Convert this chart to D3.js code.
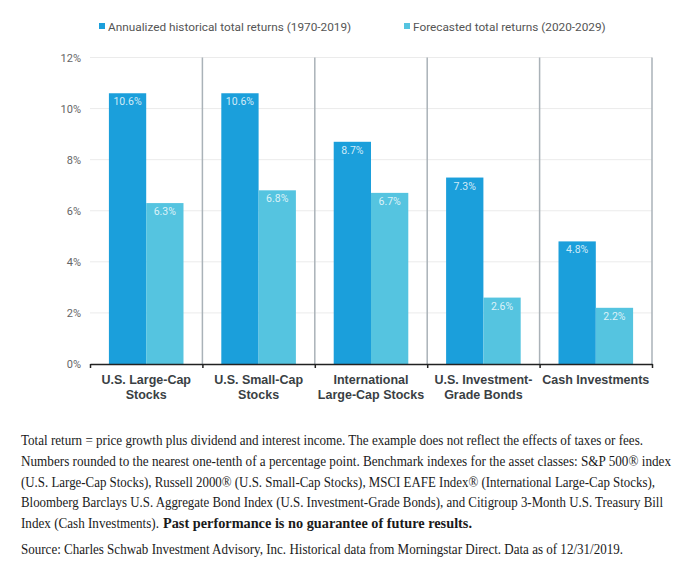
<!DOCTYPE html>
<html>
<head>
<meta charset="utf-8">
<script src="https://cdn.jsdelivr.net/npm/d3@7"></script>
<style>
  html, body { margin: 0; padding: 0; background: #fff; }
  svg { display: block; }
</style>
</head>
<body>
<svg id="chart" width="690" height="568"></svg>
<script>
const categories = [
  ["U.S. Large-Cap", "Stocks"],
  ["U.S. Small-Cap", "Stocks"],
  ["International", "Large-Cap Stocks"],
  ["U.S. Investment-", "Grade Bonds"],
  ["Cash Investments"]
];
const seriesNames = ["Annualized historical total returns (1970-2019)", "Forecasted total returns (2020-2029)"];
const historical = [10.6, 10.6, 8.7, 7.3, 4.8];
const forecast = [6.3, 6.8, 6.7, 2.6, 2.2];
const yTicks = [0, 2, 4, 6, 8, 10, 12];
const colors = ["#1b9fdb", "#55c4e0"];

const footLines = [
  [{t: "Total return = price growth plus dividend and interest income. The example does not reflect the effects of taxes or fees."}],
  [{t: "Numbers rounded to the nearest one-tenth of a percentage point. Benchmark indexes for the asset classes: S&P 500® index"}],
  [{t: "(U.S. Large-Cap Stocks), Russell 2000® (U.S. Small-Cap Stocks), MSCI EAFE Index® (International Large-Cap Stocks),"}],
  [{t: "Bloomberg Barclays U.S. Aggregate Bond Index (U.S. Investment-Grade Bonds), and Citigroup 3-Month U.S. Treasury Bill"}],
  [{t: "Index (Cash Investments). "}, {t: "Past performance is no guarantee of future results.", b: true}]
];
const sourceLine = "Source: Charles Schwab Investment Advisory, Inc. Historical data from Morningstar Direct. Data as of 12/31/2019.";

(function() {
const svg = d3.select("#chart");
const pLeft = 90, pRight = 652, pTop = 57.5, pBottom = 364;

const x = d3.scaleBand().domain(d3.range(categories.length)).range([pLeft, pRight]).paddingInner(0).paddingOuter(0);
const inner = d3.scaleBand().domain([0, 1]).range([0, x.bandwidth()]).paddingInner(0).paddingOuter(0.507);
const y = d3.scaleLinear().domain([0, 12]).range([pBottom, pTop]);

// gridlines
svg.append("g").selectAll("line").data(yTicks.filter(d => d > 0)).join("line")
  .attr("x1", pLeft).attr("x2", pRight)
  .attr("y1", d => y(d)).attr("y2", d => y(d))
  .attr("stroke", "#ebebeb").attr("stroke-width", 1);

// y axis labels
const yAxis = d3.axisLeft(y).tickValues(yTicks).tickFormat(d => d + "%").tickSize(0).tickPadding(9);
const yg = svg.append("g").attr("transform", `translate(${pLeft},0)`).call(yAxis);
yg.select(".domain").remove();
yg.selectAll("text").attr("fill", "#666").attr("font-size", 11).attr("font-family", "Roboto, 'Liberation Sans', Arial, sans-serif");

// separators
svg.append("g").selectAll("line").data(d3.range(1, categories.length + 1)).join("line")
  .attr("x1", i => i < categories.length ? x(i) : pRight).attr("x2", i => i < categories.length ? x(i) : pRight)
  .attr("y1", pTop).attr("y2", pBottom)
  .attr("stroke", "#aab2b8").attr("stroke-width", 1.5);

// bars
const data = [historical, forecast];
const groups = svg.append("g").selectAll("g").data(categories.map((c, i) => i)).join("g")
  .attr("transform", i => `translate(${x(i)},0)`);
groups.selectAll("rect").data(i => data.map((s, k) => ({k, v: s[i]}))).join("rect")
  .attr("x", d => inner(d.k)).attr("width", inner.bandwidth())
  .attr("y", d => y(d.v)).attr("height", d => y(0) - y(d.v))
  .attr("fill", d => colors[d.k]);
groups.selectAll("text").data(i => data.map((s, k) => ({k, v: s[i]}))).join("text")
  .attr("x", d => inner(d.k) + inner.bandwidth() / 2)
  .attr("y", d => y(d.v) + 12)
  .attr("text-anchor", "middle")
  .attr("fill", "#ffffff").attr("fill-opacity", 0.8)
  .attr("font-size", 10.5).attr("font-family", "Roboto, 'Liberation Sans', Arial, sans-serif")
  .text(d => d.v.toFixed(1) + "%");

// x axis
const xAxis = d3.axisBottom(d3.scaleLinear().domain([0, categories.length]).range([pLeft, pRight]))
  .tickValues(d3.range(0, categories.length + 1)).tickFormat("").tickSizeInner(4).tickSizeOuter(0);
const xg = svg.append("g").attr("transform", `translate(0,${pBottom})`).call(xAxis);
xg.select(".domain").attr("stroke", "#222").attr("stroke-width", 1.5);
xg.selectAll(".tick line").attr("stroke", "#222").attr("stroke-width", 1.5);

// category labels
const cl = svg.append("g").selectAll("text").data(categories).join("text")
  .attr("x", (d, i) => x(i) + x.bandwidth() / 2)
  .attr("y", 384)
  .attr("text-anchor", "middle")
  .attr("font-size", 12.5).attr("font-weight", "bold").attr("fill", "#3a3f44")
  .attr("font-family", "'Liberation Sans', Arial, sans-serif");
cl.selectAll("tspan").data(d => d).join("tspan")
  .attr("x", function() { return d3.select(this.parentNode).attr("x"); })
  .attr("dy", (d, i) => i === 0 ? 0 : 15)
  .text(d => d);

// legend
const legendX = [99, 404];
const lg = svg.append("g").selectAll("g").data(seriesNames).join("g")
  .attr("transform", (d, i) => `translate(${legendX[i]},23)`);
lg.append("rect").attr("width", 6).attr("height", 6).attr("fill", (d, i) => colors[i]);
lg.append("text").attr("x", 9).attr("y", 7.5)
  .attr("font-size", 11.8).attr("fill", "#555")
  .attr("font-family", "Roboto, 'Liberation Sans', Arial, sans-serif")
  .text(d => d);

// footnote
const serif = "'Liberation Serif', 'DejaVu Serif', Georgia, serif";
const lineW = [[622], [650], [634], [642], [138, 309]];
const segX = [[21], [21], [21], [21], [21, 163]];
const foot = svg.append("g");
footLines.forEach((line, i) => {
  const t = foot.append("text").attr("y", 445 + i * 20.8)
    .attr("font-size", 14).attr("fill", "#1a1a1a").attr("font-family", serif);
  line.forEach((seg, j) => {
    t.append("tspan").attr("x", segX[i][j])
      .attr("font-weight", seg.b ? "bold" : "normal")
      .attr("textLength", lineW[i][j]).attr("lengthAdjust", "spacingAndGlyphs")
      .text(seg.t.trim());
  });
});
foot.append("text").attr("x", 21).attr("y", 554)
  .attr("font-size", 14).attr("fill", "#1a1a1a").attr("font-family", serif)
  .attr("textLength", 602).attr("lengthAdjust", "spacingAndGlyphs")
  .text(sourceLine);
})();
</script>
</body>
</html>
